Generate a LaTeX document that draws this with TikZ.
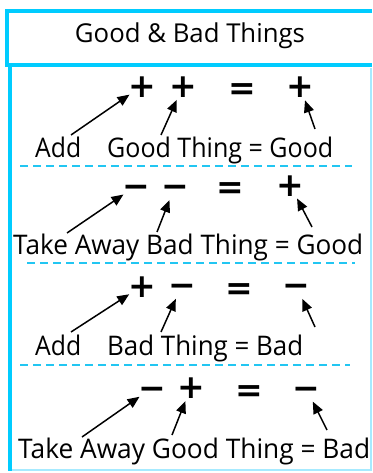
\documentclass[tikz,border=0pt]{standalone}
\usepackage{fontspec}
\usepackage{graphicx}
\setmainfont{Open Sans}
\newfontfamily\symfont{DejaVu Sans}
\usetikzlibrary{arrows.meta}
\definecolor{boxcyan}{HTML}{00CCFF}
\definecolor{lightcyan}{HTML}{A6EAFF}
\definecolor{dashcyan}{HTML}{22C6F2}
\newcommand\fitw[2]{\resizebox{#1}{\height}{#2}}
\newcommand\gplus{\raisebox{-0.36em}{+}}
\newcommand\gminus{\raisebox{-0.36em}{\char"2212}}
\newcommand\gequal{\raisebox{-0.36em}{=}}
\begin{document}
\begin{tikzpicture}[x=1bp,y=-1bp,
  sym/.style={shape=circle,inner sep=0pt,minimum size=30bp,
    font=\symfont\bfseries\fontsize{33bp}{33bp}\selectfont,
    text height=0pt,text depth=0pt},
  lbl/.style={anchor=base west,inner sep=0pt,
    font=\fontsize{27bp}{31bp}\selectfont},
  arr/.style={line width=1.5bp,-{Triangle[length=12bp,width=10bp]}},
  sep/.style={dashcyan,line width=1.6bp,dash pattern=on 8bp off 5bp}]
\useasboundingbox (0,0) rectangle (372,473);
% frames
\draw[lightcyan,line width=1.2bp] (9.5,68) -- (9.5,470) -- (371,470) -- (371,68);
\draw[boxcyan,line width=4bp] (9.5,66) -- (9.5,470.6);
\draw[boxcyan,line width=4bp] (372,11) -- (6.5,11) -- (6.5,65.5) -- (372,65.5);
\node[inner sep=0pt,anchor=base,font=\fontsize{26bp}{30bp}\selectfont] (title) at (190,43) {\fitw{230bp}{Good \& Bad Things}};
% separators
\coordinate (d1a) at (20,166); \coordinate (d1b) at (352,166);
\coordinate (d2a) at (27,263); \coordinate (d2b) at (355,263);
\coordinate (d3a) at (20,365); \coordinate (d3b) at (350,365);
\draw[sep] (d1a) -- (d1b);
\draw[sep] (d2a) -- (d2b);
\draw[sep] (d3a) -- (d3b);
% row 1
\node[sym] (s11) at (142,86) {\gplus};
\node[sym] (s12) at (183,86) {\gplus};
\node[sym] (s13) at (242,88) {\gequal};
\node[sym] (s14) at (300,86) {\gplus};
\node[lbl] (l11) at (35,158) {\fitw{46bp}{Add}};
\node[lbl] (l12) at (107,158) {\fitw{226bp}{Good Thing = Good}};
\coordinate (t11) at (71,135); \coordinate (t12) at (161,135); \coordinate (t13) at (315,129);
\draw[arr] (t11) -- (s11);
\draw[arr] (t12) -- (s12);
\draw[arr] (t13) -- (s14);
% row 2
\node[sym] (s21) at (136,186) {\gminus};
\node[sym] (s22) at (175,186) {\gminus};
\node[sym] (s23) at (230,187) {\gequal};
\node[sym] (s24) at (290,185) {\gplus};
\node[lbl] (l21) at (13,254) {\fitw{350bp}{Take Away Bad Thing = Good}};
\coordinate (t21) at (67,233); \coordinate (t22) at (157,232); \coordinate (t23) at (312,227);
\draw[arr] (t21) -- (s21);
\draw[arr] (t22) -- (s22);
\draw[arr] (t23) -- (s24);
% row 3
\node[sym] (s31) at (142,286) {\gplus};
\node[sym] (s32) at (182,285) {\gminus};
\node[sym] (s33) at (239,288) {\gequal};
\node[sym] (s34) at (296,285) {\gminus};
\node[lbl] (l31) at (35,355) {\fitw{46bp}{Add}};
\node[lbl] (l32) at (107,355) {\fitw{196bp}{Bad Thing = Bad}};
\coordinate (t31) at (71,332); \coordinate (t32) at (161,332); \coordinate (t33) at (315,327);
\draw[arr] (t31) -- (s31);
\draw[arr] (t32) -- (s32);
\draw[arr] (t33) -- (s34);
% row 4
\node[sym] (s41) at (152,388) {\gminus};
\node[sym] (s42) at (191,387) {\gplus};
\node[sym] (s43) at (249,390) {\gequal};
\node[sym] (s44) at (306,388) {\gminus};
\node[lbl] (l41) at (18,458) {\fitw{352bp}{Take Away Good Thing = Bad}};
\coordinate (t41) at (82,437); \coordinate (t42) at (172,435); \coordinate (t43) at (327,430);
\draw[arr] (t41) -- (s41);
\draw[arr] (t42) -- (s42);
\draw[arr] (t43) -- (s44);
\end{tikzpicture}
\end{document}
